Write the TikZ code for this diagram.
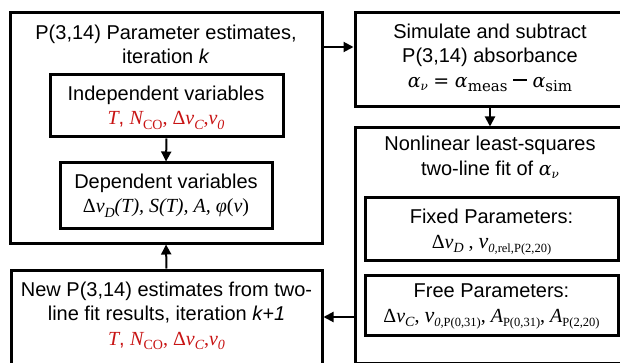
\documentclass[tikz,border=0pt]{standalone}
\usepackage{fontspec}
\setmainfont{Liberation Sans}
\newfontfamily\mfont{Liberation Serif}
\newfontfamily\cfont{DejaVu Serif}
\usetikzlibrary{arrows.meta,calc}
\definecolor{myred}{RGB}{200,20,20}
\newcommand{\mi}[1]{{\mfont\itshape #1}}
\newcommand{\mr}[1]{{\mfont #1}}
\newcommand{\sbs}[1]{\raisebox{-4.5pt}{\fontsize{14}{14}\selectfont #1}}
\newcommand{\ssb}[1]{\raisebox{-4.5pt}{\fontsize{12.5}{12.5}\selectfont #1}}
\newcommand{\ca}{{\cfont\itshape\fontsize{19}{19}\selectfont α}}
\newcommand{\csb}[1]{\raisebox{-4pt}{\cfont\fontsize{15}{15}\selectfont #1}}
\newcommand{\cnu}{\raisebox{-3pt}{\cfont\itshape\fontsize{12}{12}\selectfont ν}}
\begin{document}
\begin{tikzpicture}[x=1pt,y=-1pt,
  box/.style={draw,line width=3pt,inner sep=0pt},
  txt/.style={align=center,font=\fontsize{20}{24.5}\selectfont,inner sep=0pt},
  arr/.style={-{Triangle[length=10pt,width=10pt]},line width=2pt}]
\useasboundingbox (0,0) rectangle (620,363);
\clip (0,0) rectangle (620,363);
% boxes
\node[box,minimum width=312pt,minimum height=230pt] (A) at (166,128) {};
\node[box,minimum width=233pt,minimum height=62pt] (I) at (166.5,106) {};
\node[box,minimum width=212pt,minimum height=65pt] (Dp) at (166,195.5) {};
\node[box,minimum width=311pt,minimum height=120pt] (D) at (166.5,330) {};
\node[box,minimum width=270pt,minimum height=94pt] (B) at (490,60) {};
\node[box,minimum width=270pt,minimum height=235.5pt] (C) at (490,245.75) {};
\node[box,minimum width=253pt,minimum height=62pt] (F) at (491.5,229) {};
\node[box,minimum width=253pt,minimum height=60pt] (G) at (491.5,305) {};
% texts
\node[txt] (tA) at (166,44.5) {P(3,14) Parameter estimates,\\ iteration \textit{k}};
\node[txt] (tI) at (166,107.5) {Independent variables\\
  \color{myred}\mi{T}, \mi{N}\sbs{\mr{CO}}\mr{, Δ}\mi{ν}\sbs{\mi{C}}\mr{,}\mi{ν}\sbs{\mi{0}}};
\node[txt] (tDp) at (166,195.5) {Dependent variables\\
  \mr{Δ}\mi{ν}\sbs{\mi{D}}\mi{(T), S(T), A, φ}\mr{(}\mi{ν}\mr{)}};
\node[txt] (tD) at (166.5,316) {New P(3,14) estimates from two-\\ line fit results, iteration \textit{k+1}\\
  \color{myred}\mi{T}, \mi{N}\sbs{\mr{CO}}\mr{, Δ}\mi{ν}\sbs{\mi{C}}\mr{,}\mi{ν}\sbs{\mi{0}}};
\node[txt] (tB) at (490,57.5) {Simulate and subtract\\ P(3,14) absorbance\\
  \ca\cnu{} {\cfont\fontsize{19}{19}\selectfont =} \ca\csb{meas} \rule[6pt]{14pt}{2.2pt} \ca\csb{sim}};
\node[txt] (tC) at (490,157.5) {Nonlinear least-squares\\ two-line fit of \ca\cnu};
\node[txt] (tF) at (491.5,232.5) {Fixed Parameters:\\
  \mr{Δ}\mi{ν}\sbs{\mi{D}}\mr{ , }{\fontsize{22}{22}\selectfont\mi{ν}}\ssb{\mi{0,}\mr{rel,P(2,20)}}};
\node[txt] (tG) at (491.5,306.5) {Free Parameters:\\
  \mr{Δ}\mi{ν}\sbs{\mi{C}}\mr{, }{\fontsize{22}{22}\selectfont\mi{ν}}\ssb{\mi{0,}\mr{P(0,31)}}\mr{, }\mi{A}\ssb{\mr{P(0,31)}}\mr{, }\mi{A}\ssb{\mr{P(2,20)}}};
% connectors
\coordinate (r1) at (0,47);
\coordinate (r2) at (0,317);
\draw[arr] (A.east |- r1) -- (B.west |- r1);
\draw[arr] (B.south) -- (C.north);
\draw[arr] (I.south) -- (Dp.north);
\draw[arr] (D.north) -- (A.south);
\draw[arr] (C.west |- r2) -- (D.east |- r2);
\end{tikzpicture}
\end{document}
